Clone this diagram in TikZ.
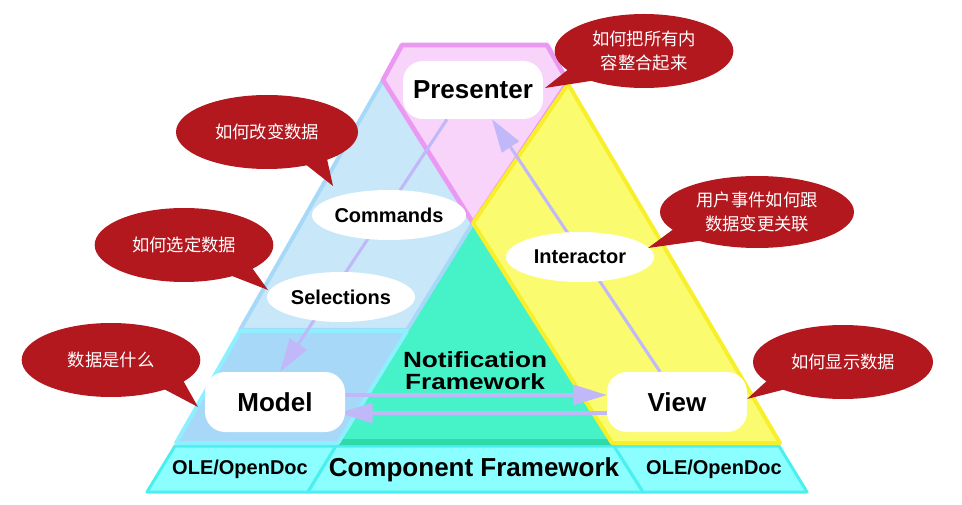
\documentclass[tikz,border=0pt]{standalone}
\usepackage{fontspec}
\usepackage{graphicx}
\setmainfont{Liberation Sans}
\newfontfamily\cjk{Noto Sans CJK SC}
\usetikzlibrary{shapes.geometric,arrows.meta,calc}
\pgfdeclarelayer{bg}
\pgfdeclarelayer{mid}
\pgfsetlayers{bg,mid,main}
\definecolor{pinkF}{HTML}{F9D4FA}
\definecolor{pinkD}{HTML}{EA98F2}
\definecolor{blueF}{HTML}{C8E8FA}
\definecolor{blueD}{HTML}{A6D9F8}
\definecolor{blueL}{HTML}{A7D8F8}
\definecolor{cyanD}{HTML}{8CF0FF}
\definecolor{yelF}{HTML}{FBFB70}
\definecolor{yelD}{HTML}{F7EF2A}
\definecolor{greenF}{HTML}{46F2C8}
\definecolor{greenD}{HTML}{30D9A8}
\definecolor{barF}{HTML}{8BFFFF}
\definecolor{barD}{HTML}{4CEFEF}
\definecolor{arrowC}{HTML}{C0B8F8}
\definecolor{bubR}{HTML}{B3181F}
\begin{document}
\begin{tikzpicture}[x=0.75pt,y=-0.75pt,
  boxnode/.style={fill=white, rounded corners=15pt, minimum width=105pt, minimum height=44pt, inner sep=0pt, font=\fontsize{19.5}{22}\selectfont\bfseries},
  ovalnode/.style={ellipse, fill=white, minimum width=111pt, minimum height=37.5pt, inner sep=0pt, font=\fontsize{15}{18}\selectfont\bfseries},
  bubble/.style={ellipse, fill=bubR, text=white, inner sep=0pt, minimum width=134pt, minimum height=55.5pt, align=center, font=\cjk\fontsize{13}{18}\selectfont},
  bandlabel/.style={inner sep=0pt, align=center, font=\fontsize{19.5}{22}\selectfont\bfseries},
  notiflabel/.style={inner sep=0pt, align=center, font=\fontsize{16.5}{16.5}\selectfont\bfseries},
  smalllabel/.style={inner sep=0pt, font=\fontsize{15}{18}\selectfont\bfseries},
  arr/.style={draw=arrowC, line width=2.3pt, -{Triangle[length=25pt,width=15pt]}},
  tail/.style={fill=bubR},
  band/.style={line join=round}
]
\useasboundingbox (0,0) rectangle (962,505);

% ---------- bands ----------
\begin{pgfonlayer}{bg}
  % bottom bar
  \filldraw[band, fill=barF, draw=barD, line width=2.25pt] (175,446) -- (336,446) -- (308,492) -- (147,492) -- cycle;
  \filldraw[band, fill=barF, draw=barD, line width=2.25pt] (336,446) -- (614,446) -- (643,492) -- (308,492) -- cycle;
  \filldraw[band, fill=barF, draw=barD, line width=2.25pt] (614,446) -- (779,446) -- (807,492) -- (643,492) -- cycle;
  % green triangle
  \fill[greenF] (473,223) -- (614,445) -- (336,445) -- cycle;
  \fill[greenD] (341,439) -- (610,439) -- (614,445) -- (336,445) -- cycle;
  % blue band
  \filldraw[band, fill=blueF, draw=blueD, line width=3pt] (383,80) -- (473,223) -- (407,330) -- (240,330) -- cycle;
  \filldraw[band, fill=blueL, draw=cyanD, line width=3pt] (240,331) -- (407,331) -- (338,443) -- (176,443) -- cycle;
  % pink band
  \filldraw[band, fill=pinkF, draw=pinkD, line width=3.5pt] (383,80) -- (402,45) -- (547,45) -- (568,82) -- (473,223) -- cycle;
  % yellow band
  \filldraw[band, fill=yelF, draw=yelD, line width=3pt] (568,84) -- (780,443) -- (612,443) -- (473,223) -- cycle;
\end{pgfonlayer}

% ---------- nodes ----------
\node[boxnode, minimum height=43.5pt] (presenter) at (473,90) {Presenter};
\node[boxnode, minimum height=45pt] (model) at (275,402) {Model};
\node[boxnode, minimum height=45pt] (view) at (677,402) {View};
\node[ovalnode] (commands) at (389,215) {Commands};
\node[ovalnode] (selections) at (341,297) {Selections};
\node[ovalnode] (interactor) at (580,257) {Interactor};
\node[notiflabel] (notif) at (475,371) {\scalebox{1.19}[1]{Notification}\\\scalebox{1.19}[1]{Framework}};
\node[bandlabel] (component) at (474,470) {Component Framework};
\node[smalllabel] (oleL) at (240,469) {OLE/OpenDoc};
\node[smalllabel] (oleR) at (714,469) {OLE/OpenDoc};

% ---------- connectors ----------
\begin{pgfonlayer}{mid}
  \draw[arr] ($(presenter.south)+(-26,0)$) -- ($(model.north)+(5,0)$);
  \draw[arr] ($(view.north)+(-17,0)$) -- ($(presenter.south)+(19,0)$);
  \draw[arr] ($(model.east)+(0,-7)$) -- ($(view.west)+(0,-7)$);
  \draw[arr] ($(view.west)+(0,11)$) -- ($(model.east)+(-6,11)$);
\end{pgfonlayer}

% ---------- speech bubbles ----------
\node[bubble] (bubPresenter) at (644,51) {如何把所有内\\容整合起来};
\node[bubble, minimum width=136.5pt] (bubCommands) at (267,132) {如何改变数据};
\node[bubble] (bubSelections) at (184,245) {如何选定数据};
\node[bubble] (bubModel) at (111,360) {数据是什么};
\node[bubble, minimum width=145.5pt, minimum height=54pt] (bubInteractor) at (757,212) {用户事件如何跟\\数据变更关联};
\node[bubble, minimum width=135pt] (bubView) at (843,362) {如何显示数据};

\fill[tail] (570,68) -- (545,88) -- (597,80) -- cycle;
\fill[tail] (300,160) -- (333,186) -- (325,150) -- cycle;
\fill[tail] (227,274) -- (268,290) -- (250,265) -- cycle;
\fill[tail] (162,388) -- (198,407) -- (180,375) -- cycle;
\fill[tail] (675,228) -- (648,248) -- (705,240) -- cycle;
\fill[tail] (770,378) -- (747,399) -- (790,388) -- cycle;
\end{tikzpicture}
\end{document}
